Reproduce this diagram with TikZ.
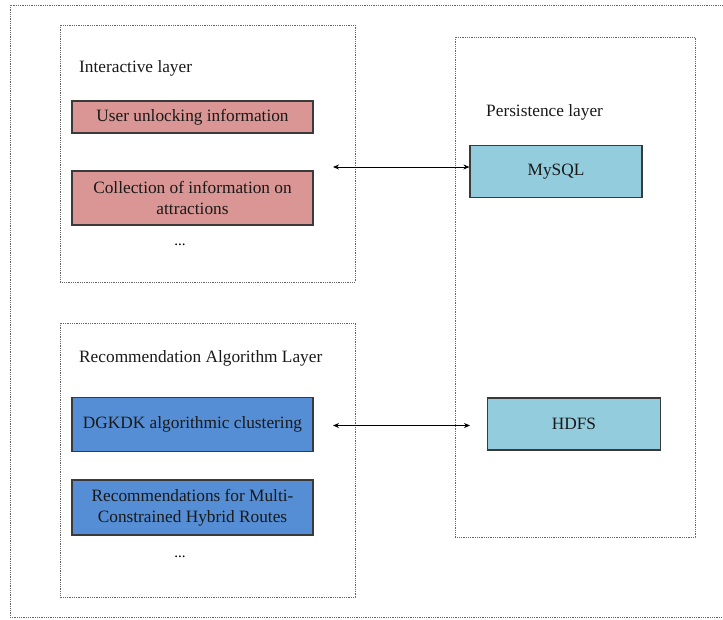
\documentclass[tikz,border=0pt]{standalone}
\usepackage{fontspec}
\setmainfont{Liberation Serif}
\usetikzlibrary{arrows.meta}
\definecolor{pinkfill}{HTML}{D99694}
\definecolor{bluefill}{HTML}{558ED5}
\definecolor{cyanfill}{HTML}{93CDDD}
\definecolor{boxedge}{HTML}{3A3A3A}
\begin{document}
\begin{tikzpicture}[x=1pt,y=-1pt,
  layerbox/.style={draw=gray!80!black,line width=0.9pt,dash pattern=on 1pt off 0.8pt},
  itembox/.style={draw=boxedge,line width=1.1pt,rectangle,inner sep=2pt,align=center,
     font=\fontsize{17.3}{21}\selectfont,text=black!90},
  pinkbox/.style={itembox,fill=pinkfill,minimum width=241pt},
  bluebox/.style={itembox,fill=bluefill,minimum width=241pt},
  cyanbox/.style={itembox,fill=cyanfill},
  layerlabel/.style={anchor=west,inner sep=0pt,font=\fontsize{17.3}{20}\selectfont,text=black!90},
  dots/.style={inner sep=0pt,font=\fontsize{15}{16}\selectfont},
  link/.style={line width=0.9pt,{Stealth[length=6pt,width=5pt]}-{Stealth[length=6pt,width=5pt]}}
]
\useasboundingbox (0,0) rectangle (723,619);
% outer frame (right side cut off)
\draw[layerbox] (730,5) -- (10,5) -- (10,617) -- (730,617);
% layer frames
\draw[layerbox] (60,25) rectangle (355,282);
\draw[layerbox] (455,37) rectangle (695,537);
\draw[layerbox] (60,323) rectangle (355,597);
% labels
\node[layerlabel] (lint) at (79,68) {Interactive layer};
\node[layerlabel] (lper) at (486,112) {Persistence layer};
\node[layerlabel] (lrec) at (79,358) {Recommendation Algorithm Layer};
% item boxes
\node[pinkbox,minimum height=32pt] (user) at (192.5,117) {User unlocking information};
\node[pinkbox,minimum height=54pt] (coll) at (192.5,198) {Collection of information on\\attractions};
\node[dots] (d1) at (180,245) {...};
\node[bluebox,minimum height=54pt] (dgkdk) at (192.5,424.5) {DGKDK algorithmic clustering};
\node[bluebox,minimum height=55pt] (recs) at (192.5,507.5) {Recommendations for Multi-\\Constrained Hybrid Routes};
\node[dots] (d2) at (180,557) {...};
\node[cyanbox,minimum width=172pt,minimum height=52pt] (mysql) at (556,171.5) {MySQL};
\node[cyanbox,minimum width=173pt,minimum height=52pt] (hdfs) at (574,424) {HDFS};
% connectors
\coordinate (a1) at (333,167);
\coordinate (a2) at (333,425.5);
\coordinate (m1) at (mysql.west |- a1);
\draw[link] (a1) -- (m1);
\coordinate (h1) at (470,425.5);
\draw[link] (a2) -- (h1);
\end{tikzpicture}
\end{document}
